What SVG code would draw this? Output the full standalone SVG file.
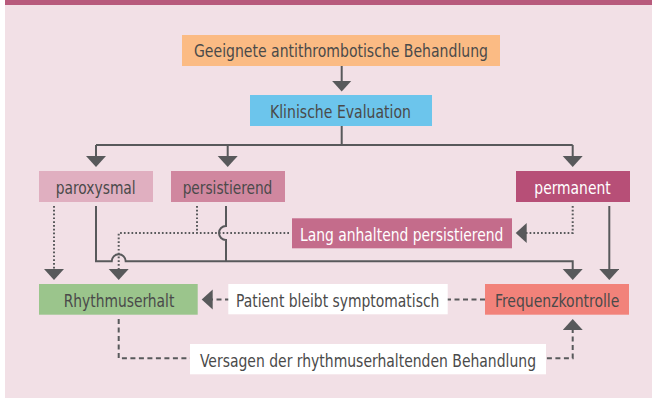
<svg xmlns="http://www.w3.org/2000/svg" width="659" height="402" viewBox="0 0 659 402">
<style>
text{font-family:"DejaVu Sans Condensed","Liberation Sans Narrow","Liberation Sans",sans-serif;font-size:17.5px;fill:#4a4a4a;text-anchor:middle}
.w{fill:#ffffff}
.ln{fill:none;stroke:#58595b;stroke-width:2}
.dot{fill:none;stroke:#58595b;stroke-width:2;stroke-dasharray:1.7 2.1}
.dash{fill:none;stroke:#58595b;stroke-width:2;stroke-dasharray:5 3.5}
</style>
<defs>
<marker id="ah" markerUnits="userSpaceOnUse" markerWidth="12" markerHeight="21" refX="2" refY="10" orient="auto">
<path d="M0,0 L11,10 L0,20 Z" fill="#58595b"/>
</marker>
</defs>
<rect x="0" y="0" width="659" height="402" fill="#ffffff"/>
<rect x="5" y="0" width="647" height="398" fill="#f2e0e6"/>
<rect x="5" y="0" width="647" height="5" fill="#b85a7c"/>

<g id="connectors">
<path class="ln" d="M341.7,66 V82.5" marker-end="url(#ah)"/>
<path class="ln" d="M341.7,126 V145 M96,145 H572.7"/>
<path class="ln" d="M96,145 V158" marker-end="url(#ah)"/>
<path class="ln" d="M227.7,145 V158" marker-end="url(#ah)"/>
<path class="ln" d="M572.7,145 V158" marker-end="url(#ah)"/>
<path class="ln" d="M96,206 V261.3 H111.7 A7,7 0 0 1 125.7,261.3 H572.7 V271" marker-end="url(#ah)"/>
<path class="ln" d="M226,206 V226 A7,7 0 0 0 226,240 V261.3"/>
<path class="ln" d="M609.3,206 V271" marker-end="url(#ah)"/>
<path class="dot" d="M54,206 V271" marker-end="url(#ah)"/>
<path class="dot" d="M197,206 V233"/>
<path class="dot" d="M289,233 H118.7 V271" marker-end="url(#ah)"/>
<path class="dot" d="M572.7,206 V233 H524.7" marker-end="url(#ah)"/>
<path class="dash" d="M485,299.5 H210.7" marker-end="url(#ah)"/>
<path class="dash" d="M118.7,319 V358.3 H572.7 V328" marker-end="url(#ah)"/>
</g>

<g id="n-antithrombotisch">
<rect x="182" y="35" width="318" height="31" fill="#fbbb84"/>
<text x="341" y="57" textLength="294" lengthAdjust="spacingAndGlyphs">Geeignete antithrombotische Behandlung</text>
</g>
<g id="n-evaluation">
<rect x="250" y="95" width="182" height="31" fill="#6cc5ec"/>
<text x="340.5" y="117.5" textLength="141" lengthAdjust="spacingAndGlyphs">Klinische Evaluation</text>
</g>
<g id="n-paroxysmal">
<rect x="39" y="171" width="114" height="31" fill="#e0afc0"/>
<text x="95.7" y="193.5" textLength="80" lengthAdjust="spacingAndGlyphs">paroxysmal</text>
</g>
<g id="n-persistierend">
<rect x="171" y="171" width="114" height="31" fill="#d0879f"/>
<text x="227.5" y="193.5" textLength="89.7" lengthAdjust="spacingAndGlyphs">persistierend</text>
</g>
<g id="n-permanent">
<rect x="516" y="171" width="114" height="31" fill="#b74f77"/>
<text class="w" x="572.5" y="193.5" textLength="76.3" lengthAdjust="spacingAndGlyphs">permanent</text>
</g>
<g id="n-lang">
<rect x="292" y="218.3" width="220" height="30" fill="#c46c8b"/>
<text class="w" x="401.7" y="240.5" textLength="203.3" lengthAdjust="spacingAndGlyphs">Lang anhaltend persistierend</text>
</g>
<g id="n-rhythmuserhalt">
<rect x="39" y="284" width="158.7" height="30.7" fill="#9bc58c"/>
<text x="119" y="306.5" textLength="110.7" lengthAdjust="spacingAndGlyphs">Rhythmuserhalt</text>
</g>
<g id="n-frequenz">
<rect x="485" y="284" width="144" height="30.7" fill="#f2827a"/>
<text x="557.2" y="306.5" textLength="124.3" lengthAdjust="spacingAndGlyphs">Frequenzkontrolle</text>
</g>
<g id="n-patient">
<rect x="228.3" y="284" width="219.4" height="30.3" fill="#ffffff"/>
<text x="337.7" y="306.5" textLength="203.3" lengthAdjust="spacingAndGlyphs">Patient bleibt symptomatisch</text>
</g>
<g id="n-versagen">
<rect x="190" y="344" width="356" height="30.3" fill="#ffffff"/>
<text x="368" y="366.5" textLength="336" lengthAdjust="spacingAndGlyphs">Versagen der rhythmuserhaltenden Behandlung</text>
</g>
</svg>
